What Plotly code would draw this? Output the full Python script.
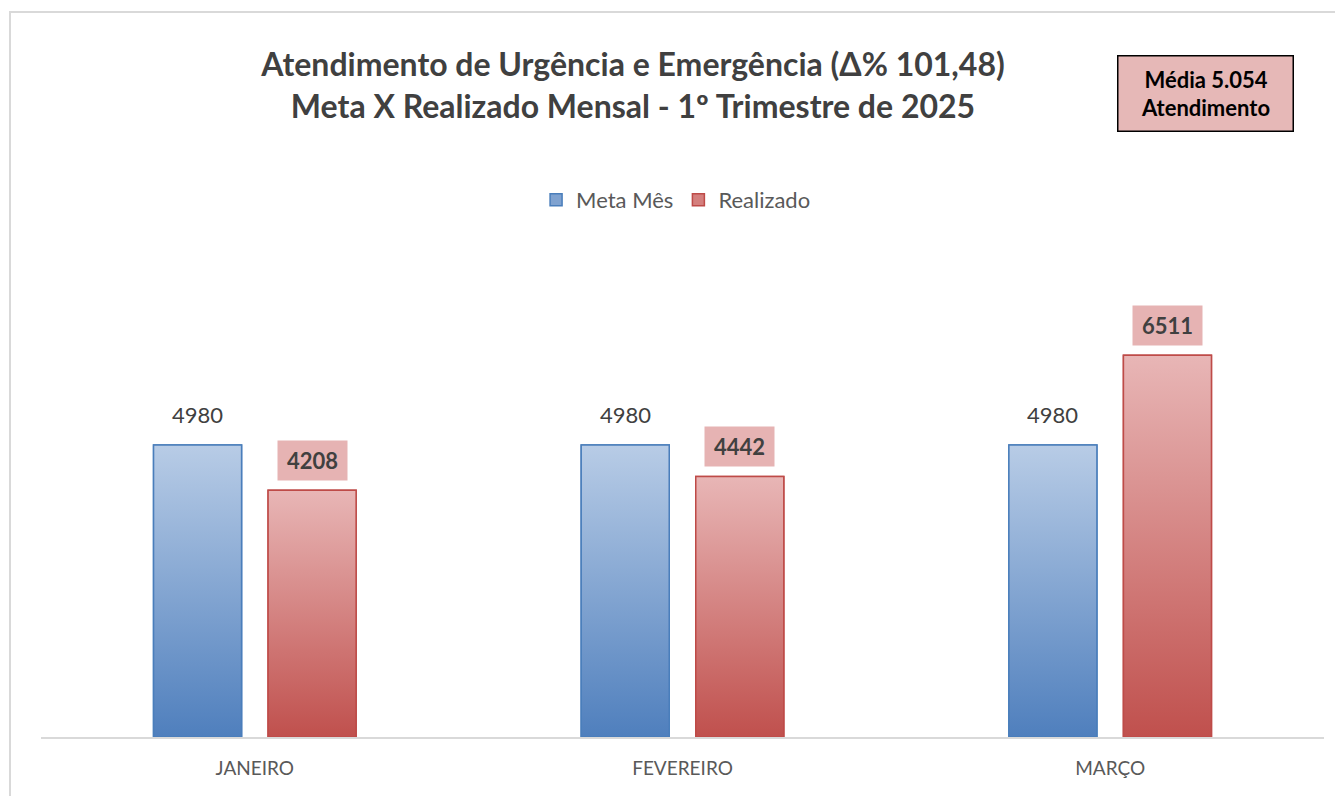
import plotly.graph_objects as go

categories = ["JANEIRO", "FEVEREIRO", "MARÇO"]
meta = [4980, 4980, 4980]
realizado = [4208, 4442, 6511]
series_names = ["Meta Mês", "Realizado"]
title_lines = ["Atendimento de Urgência e Emergência (Δ% 101,48)",
               "Meta X Realizado Mensal - 1º Trimestre de 2025"]
media_text = ["Média 5.054", "Atendimento"]

FONT = "Lato"
BLUE_TOP, BLUE_BOT, BLUE_LINE = "#b8cce6", "#4f7fbd", "#4a7ebb"
RED_TOP, RED_BOT, RED_LINE = "#e8b6b6", "#c0504d", "#be4b48"

W, H = 1335, 788
L, R, T, B = 33, 19, 260, 59
PW, PH = W - L - R, H - T - B

slot = 114.5 / 427.5
bw = 88 / 427.5
xs = list(range(len(categories)))

fig = go.Figure()

specs = [(meta, series_names[0], -slot / 2, BLUE_TOP, BLUE_BOT, BLUE_LINE, "#7fa2d0"),
         (realizado, series_names[1], slot / 2, RED_TOP, RED_BOT, RED_LINE, "#d47f7d")]

for vals, name, off, top, bot, lc, mid in specs:
    fig.add_trace(go.Bar(x=xs, y=vals, name=name, width=bw, offset=off - bw / 2,
                         marker=dict(color=mid, line=dict(color=lc, width=1.5)),
                         hoverinfo="skip"))

for vals, name, off, top, bot, lc, mid in specs:
    for xi, v in zip(xs, vals):
        x0 = xi + off - bw / 2
        x1 = xi + off + bw / 2
        fig.add_trace(go.Scatter(x=[x0, x1, x1, x0, x0], y=[0, 0, v, v, 0],
                                 mode="lines", fill="toself",
                                 fillgradient=dict(type="vertical",
                                                   colorscale=[[0, bot], [1, top]]),
                                 line=dict(color=lc, width=1.5),
                                 showlegend=False, hoverinfo="skip"))

annotations = []
for xi, v in zip(xs, meta):
    annotations.append(dict(x=xi - slot / 2, y=v, xref="x", yref="y", text=str(v),
                            showarrow=False, yanchor="middle", yshift=31,
                            font=dict(family=FONT, size=22, color="#404040")))
for xi, v in zip(xs, realizado):
    annotations.append(dict(x=xi + slot / 2, y=v, xref="x", yref="y", text="<b>%d</b>" % v,
                            showarrow=False, yanchor="middle", yshift=30,
                            bgcolor="#e6b3b3", borderpad=6, width=57,
                            font=dict(family=FONT, size=22, color="#404040")))

annotations.append(dict(x=(1197 - L) / PW, y=1 + (T - 85.5) / PH, xref="paper", yref="paper",
                        text="<b>" + "<br>".join(media_text) + "</b>", showarrow=False,
                        xanchor="center", yanchor="middle", align="center",
                        bgcolor="#e6b8b7", bordercolor="#000000", borderwidth=1.5,
                        borderpad=9, width=156,
                        font=dict(family=FONT, size=22, color="#000000")))

fig.update_layout(
    width=W, height=H,
    margin=dict(l=L, r=R, t=T, b=B),
    paper_bgcolor="white", plot_bgcolor="white",
    barmode="overlay",
    title=dict(text="<b>" + "<br>".join(title_lines) + "</b>",
               x=625 / W, xanchor="center", y=1 - 68 / H, yanchor="middle",
               font=dict(family=FONT, size=32, color="#404040")),
    legend=dict(orientation="h", x=0.495, xanchor="center", y=1 + (T - 192) / PH,
                yanchor="middle", font=dict(family=FONT, size=22, color="#595959"),
                traceorder="normal"),
    showlegend=True,
    annotations=annotations,
    shapes=[dict(type="rect", xref="paper", yref="paper",
                 x0=(2 - L) / PW, x1=(1400 - L) / PW,
                 y0=-0.3, y1=1 + (T - 4) / PH,
                 line=dict(color="#d9d9d9", width=2), fillcolor="rgba(0,0,0,0)",
                 layer="below")],
)
fig.update_xaxes(range=[-0.5, 2.5], tickvals=xs, ticktext=categories, showgrid=False,
                 zeroline=False, showline=True, linecolor="#d9d9d9", linewidth=1.5,
                 ticks="", ticklabelstandoff=13,
                 tickfont=dict(family=FONT, size=19, color="#595959"))
fig.update_yaxes(range=[0, 8000], showgrid=False, zeroline=False, showticklabels=False,
                 showline=False)

fig.write_html("out.html")
